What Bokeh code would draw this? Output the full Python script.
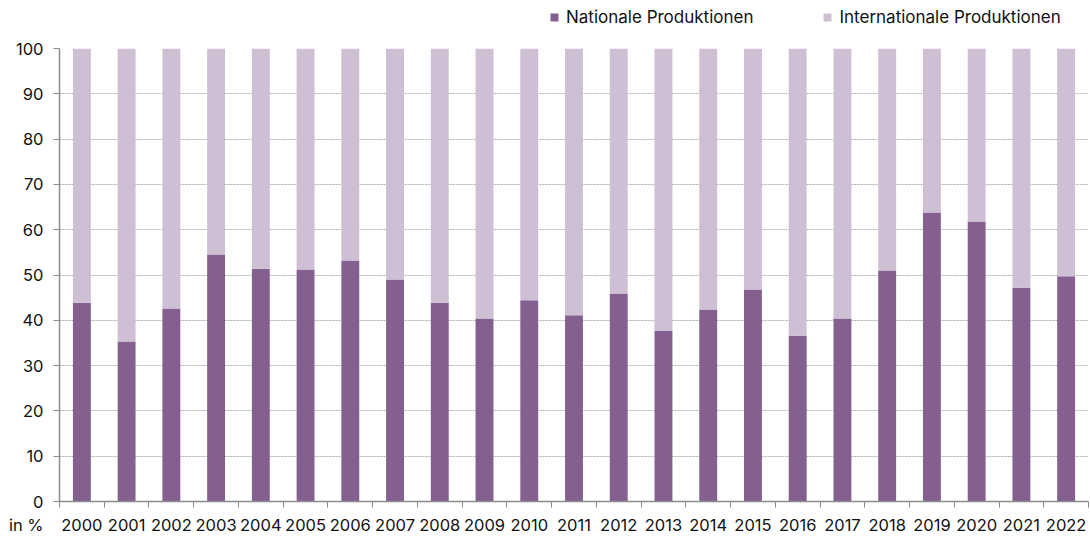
from bokeh.plotting import figure
from bokeh.models import (FixedTicker, Legend, LegendItem, ColumnDataSource, Range1d)
from bokeh.layouts import column
from bokeh.embed import file_html
from bokeh.resources import INLINE

years = ["2000", "2001", "2002", "2003", "2004", "2005", "2006", "2007", "2008", "2009",
         "2010", "2011", "2012", "2013", "2014", "2015", "2016", "2017", "2018", "2019",
         "2020", "2021", "2022"]
national = [43.9, 35.3, 42.6, 54.5, 51.4, 51.2, 53.2, 49.0, 43.9, 40.4,
            44.4, 41.1, 45.9, 37.7, 42.4, 46.8, 36.6, 40.4, 51.0, 63.8,
            61.8, 47.2, 49.7]
international = [round(100 - v, 1) for v in national]
series_labels = ["Nationale Produktionen", "Internationale Produktionen"]
y_ticks = [0, 10, 20, 30, 40, 50, 60, 70, 80, 90, 100]
unit_label = "in %"

DARK = "#83608f"
LIGHT = "#cfbfd5"
AXIS = "#8c8c8c"
TEXT = "#111111"
FONT = "Inter"
FS = "16.5px"
COLORS = [DARK, LIGHT]
LEFT, RIGHT, FRAME_W = 59, 2, 1029

xpos = list(range(len(years)))
src = ColumnDataSource(dict(x=xpos, nat=national, intl=international))
xr = Range1d(-0.5, len(years) - 0.5)

def bare(fig):
    fig.outline_line_color = None
    fig.xgrid.visible = False
    fig.ygrid.visible = False

# ---- header with legend (its bars lie far outside its y range) ----
HEADER_H = 27
header = figure(frame_width=FRAME_W, frame_height=HEADER_H, output_backend="svg",
                toolbar_location=None, x_range=xr, y_range=Range1d(1000, 1001),
                x_axis_type=None, y_axis_type=None,
                min_border_left=LEFT, min_border_right=RIGHT, min_border_top=0, min_border_bottom=0)
bare(header)
hr = header.vbar_stack(["nat", "intl"], x="x", width=0.4, source=src, color=COLORS, line_color=None)
legend = Legend(items=[LegendItem(label=lab, renderers=[r]) for lab, r in zip(series_labels, hr)],
                orientation="horizontal", location=(490, 0),
                glyph_width=10, glyph_height=10, spacing=69, padding=0, margin=0,
                label_standoff=7, label_text_font=FONT, label_text_font_size="17px",
                label_text_color=TEXT, border_line_color=None, background_fill_alpha=0)
header.add_layout(legend)

# ---- main chart ----
p = figure(frame_width=FRAME_W, frame_height=453, output_backend="svg", toolbar_location=None,
           x_range=xr, y_range=Range1d(0, 100),
           min_border_left=LEFT, min_border_right=RIGHT, min_border_top=48 - HEADER_H,
           min_border_bottom=13)
p.outline_line_color = None
p.vbar_stack(["nat", "intl"], x="x", width=0.4, source=src, color=COLORS, line_color=None)

xa = p.xaxis[0]
xa.ticker = FixedTicker(ticks=[], minor_ticks=[i - 0.5 for i in range(len(years) + 1)])
xa.major_tick_line_color = None
xa.minor_tick_line_color = AXIS
xa.minor_tick_out = 6
xa.minor_tick_in = 0
xa.axis_line_color = AXIS
xa.axis_line_width = 1.5
xa.major_label_standoff = 0

ya = p.yaxis[0]
ya.ticker = FixedTicker(ticks=y_ticks)
ya.major_tick_line_color = AXIS
ya.major_tick_out = 6
ya.major_tick_in = 0
ya.minor_tick_line_color = None
ya.axis_line_color = AXIS
ya.axis_line_width = 1.5
ya.major_label_text_font = FONT
ya.major_label_text_font_size = FS
ya.major_label_text_color = TEXT
ya.major_label_standoff = 10

p.xgrid.grid_line_color = None
p.ygrid.grid_line_color = "#b0b0b0"
p.ygrid.grid_line_dash = "2 1"
p.ygrid.grid_line_width = 1

# ---- footer: year labels + unit label on one line ----
footer = figure(frame_width=FRAME_W, frame_height=20, output_backend="svg", toolbar_location=None,
                x_range=xr, y_range=Range1d(0, 1), x_axis_location="above",
                min_border_left=LEFT, min_border_right=RIGHT, min_border_top=0, min_border_bottom=0)
bare(footer)
fx = footer.xaxis[0]
fx.ticker = FixedTicker(ticks=xpos)
fx.major_label_overrides = {i: y for i, y in enumerate(years)}
fx.axis_line_color = None
fx.major_tick_line_color = None
fx.minor_tick_line_color = None
fx.major_tick_out = 0
fx.major_tick_in = 0
fx.minor_tick_out = 0
fx.minor_tick_in = 0
fx.major_label_standoff = -16
fx.major_label_text_font = FONT
fx.major_label_text_font_size = FS
fx.major_label_text_color = TEXT

fy = footer.yaxis[0]
fy.ticker = FixedTicker(ticks=[0.5])
fy.major_label_overrides = {0.5: unit_label}
fy.axis_line_color = None
fy.major_tick_line_color = None
fy.minor_tick_line_color = None
fy.major_tick_out = 0
fy.major_tick_in = 0
fy.minor_tick_out = 0
fy.major_label_standoff = 16
fy.major_label_text_font = FONT
fy.major_label_text_font_size = FS
fy.major_label_text_color = TEXT

open("out.html", "w").write(file_html(column(header, p, footer, spacing=0), INLINE))
